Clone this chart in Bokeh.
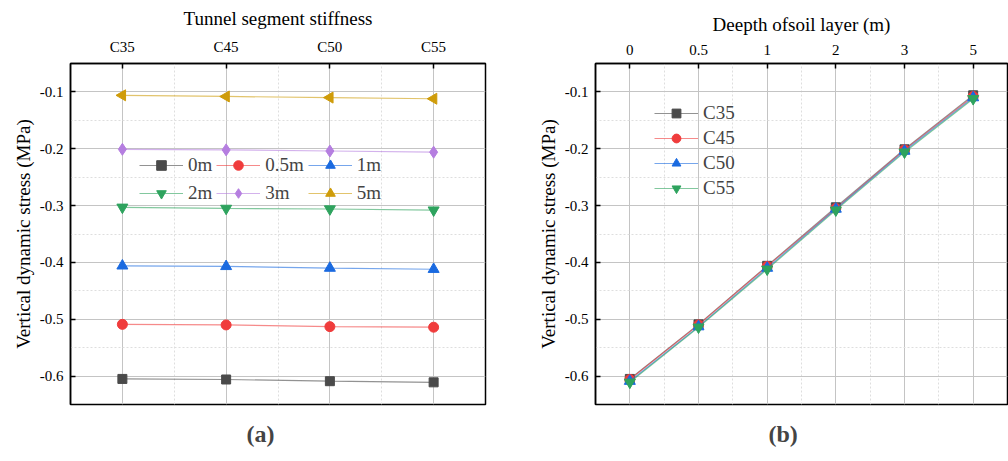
import math
from bokeh.plotting import figure
from bokeh.layouts import row
from bokeh.models import (FixedTicker, Legend, LegendItem, Title, Range1d)
from bokeh.embed import file_html
from bokeh.resources import INLINE

# ---------------- data ----------------
stiffness = ["C35", "C45", "C50", "C55"]
depths = ["0", "0.5", "1", "2", "3", "5"]
depth_labels = ["0m", "0.5m", "1m", "2m", "3m", "5m"]

# stress (MPa) at each depth for each stiffness grade
s_0m = [-0.605, -0.606, -0.609, -0.611]
s_05m = [-0.509, -0.510, -0.513, -0.514]
s_1m = [-0.406, -0.407, -0.410, -0.412]
s_2m = [-0.303, -0.305, -0.306, -0.308]
s_3m = [-0.201, -0.202, -0.204, -0.206]
s_5m = [-0.106, -0.108, -0.110, -0.112]
by_depth = [s_0m, s_05m, s_1m, s_2m, s_3m, s_5m]

y_ticks = [-0.6, -0.5, -0.4, -0.3, -0.2, -0.1]
y_tick_labels = ["-0.6", "-0.5", "-0.4", "-0.3", "-0.2", "-0.1"]
y_minor = [-0.65, -0.55, -0.45, -0.35, -0.25, -0.15, -0.05]

colors = ["#4a4a4a", "#f03c3c", "#1a6ae0", "#2ea35e", "#b57ee0", "#cf9c0a"]
markers = ["square", "circle", "triangle", "inverted_triangle", "diamond", "triangle"]
angles = [0, 0, 0, 0, 0, 90]
sizes = [9, 10, 11, 11, 12, 11]

FONT = "Liberation Serif"


def style(p, n_x, x_labels, x_title):
    p.x_range = Range1d(-0.5, n_x - 0.5)
    p.y_range = Range1d(-0.65, -0.05)
    xt = list(range(n_x))
    p.xaxis.ticker = FixedTicker(ticks=xt, minor_ticks=[i + 0.5 for i in range(-1, n_x)])
    p.xaxis.major_label_overrides = {i: lab for i, lab in zip(xt, x_labels)}
    p.yaxis.ticker = FixedTicker(ticks=y_ticks, minor_ticks=y_minor)
    p.yaxis.major_label_overrides = {v: lab for v, lab in zip(y_ticks, y_tick_labels)}
    p.xaxis.axis_label = x_title
    p.yaxis.axis_label = "Vertical dynamic stress (MPa)"
    for ax in (p.xaxis[0], p.yaxis[0]):
        ax.axis_label_text_font = FONT
        ax.axis_label_text_font_size = "19px"
        ax.axis_label_text_font_style = "normal"
        ax.axis_label_text_color = "black"
        ax.major_label_text_font = FONT
        ax.major_label_text_font_size = "15px"
        ax.major_label_text_color = "black"
        ax.axis_line_color = "black"
        ax.axis_line_width = 1.5
        ax.major_tick_in = 5
        ax.major_tick_out = 0
        ax.major_tick_line_color = "black"
        ax.major_tick_line_width = 1.5
        ax.minor_tick_in = 0
        ax.minor_tick_out = 0
    p.xaxis.major_label_standoff = 9
    p.xaxis.axis_label_standoff = 7
    p.yaxis.major_label_standoff = 7
    p.yaxis.axis_label_standoff = 3
    for g in (p.xgrid[0], p.ygrid[0]):
        g.grid_line_color = "#c4c4c4"
        g.grid_line_width = 1
        g.minor_grid_line_color = "#dedede"
        g.minor_grid_line_dash = "2 2"
        g.minor_grid_line_width = 1
    p.outline_line_color = "black"
    p.outline_line_width = 1.5
    p.outline_line_alpha = 1
    p.background_fill_color = "white"
    p.border_fill_color = "white"


def panel_tag(p, text, off):
    p.add_layout(Title(text=text, align="left", offset=off, standoff=28,
                       vertical_align="bottom",
                       text_font=FONT, text_font_size="24px", text_font_style="bold"),
                 "below")


# ---------------- panel (a) ----------------
pa = figure(width=520, height=461, output_backend="svg", toolbar_location=None,
            x_axis_location="above", min_border_left=70, min_border_right=35,
            min_border_top=63, min_border_bottom=55)
style(pa, len(stiffness), stiffness, "Tunnel segment stiffness")
xa = list(range(len(stiffness)))
items_a = []
for k, vals in enumerate(by_depth):
    ln = pa.line(xa, vals, line_color=colors[k], line_width=1.2, line_alpha=0.6)
    sc = pa.scatter(xa, vals, marker=markers[k], size=sizes[k], angle=angles[k],
                    angle_units="deg", fill_color=colors[k], line_color=colors[k])
    items_a.append(LegendItem(label=depth_labels[k], renderers=[ln, sc]))
leg_a = Legend(items=items_a, location=(69, 199), ncols=3, orientation="horizontal",
               glyph_width=44, glyph_height=24, label_height=20, spacing=4,
               label_standoff=5, padding=0, margin=0,
               label_text_font=FONT, label_text_font_size="19px",
               background_fill_alpha=0, border_line_alpha=0)
pa.add_layout(leg_a, "center")
panel_tag(pa, "(a)", 176)

# ---------------- panel (b) ----------------
pb = figure(width=488, height=461, output_backend="svg", toolbar_location=None,
            x_axis_location="above", min_border_left=75, min_border_right=1,
            min_border_top=63, min_border_bottom=57)
style(pb, len(depths), depths, "Deepth ofsoil layer (m)")
xb = list(range(len(depths)))
items_b = []
for j, grade in enumerate(stiffness):
    vals = [series[j] for series in by_depth]
    ln = pb.line(xb, vals, line_color=colors[j], line_width=1.2, line_alpha=0.6)
    sc = pb.scatter(xb, vals, marker=markers[j], size=sizes[j],
                    fill_color=colors[j], line_color=colors[j])
    items_b.append(LegendItem(label=grade, renderers=[ln, sc]))
leg_b = Legend(items=items_b, location=(59, 205), orientation="vertical",
               glyph_width=44, glyph_height=22, label_height=20, spacing=3,
               label_standoff=5, padding=0, margin=0,
               label_text_font=FONT, label_text_font_size="19px",
               background_fill_alpha=0, border_line_alpha=0)
pb.add_layout(leg_b, "center")
panel_tag(pb, "(b)", 173)

layout = row(pa, pb)
open("out.html", "w").write(file_html(layout, INLINE))
